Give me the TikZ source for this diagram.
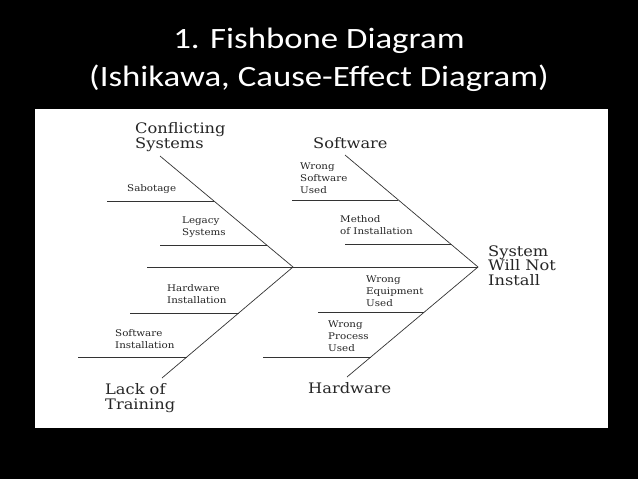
\documentclass[tikz,border=0pt]{standalone}
\usepackage{fontspec}
\setmainfont{DejaVu Serif}
\newfontfamily\titlefont[FakeStretch=1.18]{Carlito}
\newfontfamily\bonefont[FakeStretch=1.12]{DejaVu Serif}
\usetikzlibrary{calc}

\begin{document}
\begin{tikzpicture}[x=1pt,y=-1pt,
  bone/.style={draw=black!80, line width=0.7pt},
  cause/.style={anchor=base west, align=left, inner sep=0pt, text=black!85, font=\bonefont\fontsize{14.5}{12.5}\selectfont},
  subcause/.style={anchor=base west, align=left, inner sep=0pt, text=black!85, font=\bonefont\fontsize{9.2}{11.7}\selectfont}]

% Slide
\useasboundingbox (0,0) rectangle (638,479);
\fill[black] (0,0) rectangle (638,479);
\fill[white] (35,109) rectangle (608,428);

% Title (base = last line)
\node[anchor=base, align=center, inner sep=0pt, text=white, font=\titlefont\fontsize{29.5}{38}\selectfont] (title) at (319,86) {1. Fishbone Diagram\\(Ishikawa, Cause-Effect Diagram)};

% Spine
\coordinate (tail) at (147,267);
\coordinate (joint) at (293,267);
\coordinate (head) at (478,267);
\draw[bone] (tail) -- (head);

% Effect
\node[cause, font=\bonefont\fontsize{14.5}{14.5}\selectfont] (effect) at (488,285) {System\\Will Not\\Install};

% Main bones
\coordinate (cs) at (160,156);
\coordinate (lt) at (162,378);
\coordinate (sw) at (345,155);
\coordinate (hw) at (347,377);
\draw[bone] (cs) -- (joint) -- (lt);
\draw[bone] (sw) -- (head) -- (hw);

% Main causes
\node[cause] (conflicting) at (135,148) {Conflicting\\Systems};
\node[cause] (software) at (313,148) {Software};
\node[cause, font=\bonefont\fontsize{14.5}{15}\selectfont] (training) at (105,409) {Lack of\\Training};
\node[cause] (hardware) at (308,393) {Hardware};

% Sub-cause lines
\coordinate (sab) at ($(cs)!0.405!(joint)$);
\coordinate (leg) at ($(cs)!0.802!(joint)$);
\coordinate (hwi) at ($(joint)!0.414!(lt)$);
\coordinate (swi) at ($(joint)!0.811!(lt)$);
\coordinate (wsu) at ($(sw)!0.402!(head)$);
\coordinate (moi) at ($(sw)!0.795!(head)$);
\coordinate (weu) at ($(head)!0.409!(hw)$);
\coordinate (wpu) at ($(head)!0.818!(hw)$);
\draw[bone] (sab) -- ++(-107,0);
\draw[bone] (leg) -- ++(-107,0);
\draw[bone] (hwi) -- ++(-109,0);
\draw[bone] (swi) -- ++(-109,0);
\draw[bone] (wsu) -- ++(-106,0);
\draw[bone] (moi) -- ++(-106,0);
\draw[bone] (weu) -- ++(-106,0);
\draw[bone] (wpu) -- ++(-108,0);

% Sub-causes (base = last line)
\node[subcause] (sabotage) at (127,191) {Sabotage};
\node[subcause] (legacy) at (182,235) {Legacy\\Systems};
\node[subcause] (hwinst) at (167,303) {Hardware\\Installation};
\node[subcause] (swinst) at (115,348) {Software\\Installation};
\node[subcause] (wrongsw) at (300,193) {Wrong\\Software\\Used};
\node[subcause] (method) at (340,234) {Method\\of Installation};
\node[subcause] (wrongeq) at (366,306) {Wrong\\Equipment\\Used};
\node[subcause] (wrongpr) at (328,351) {Wrong\\Process\\Used};

\end{tikzpicture}
\end{document}
